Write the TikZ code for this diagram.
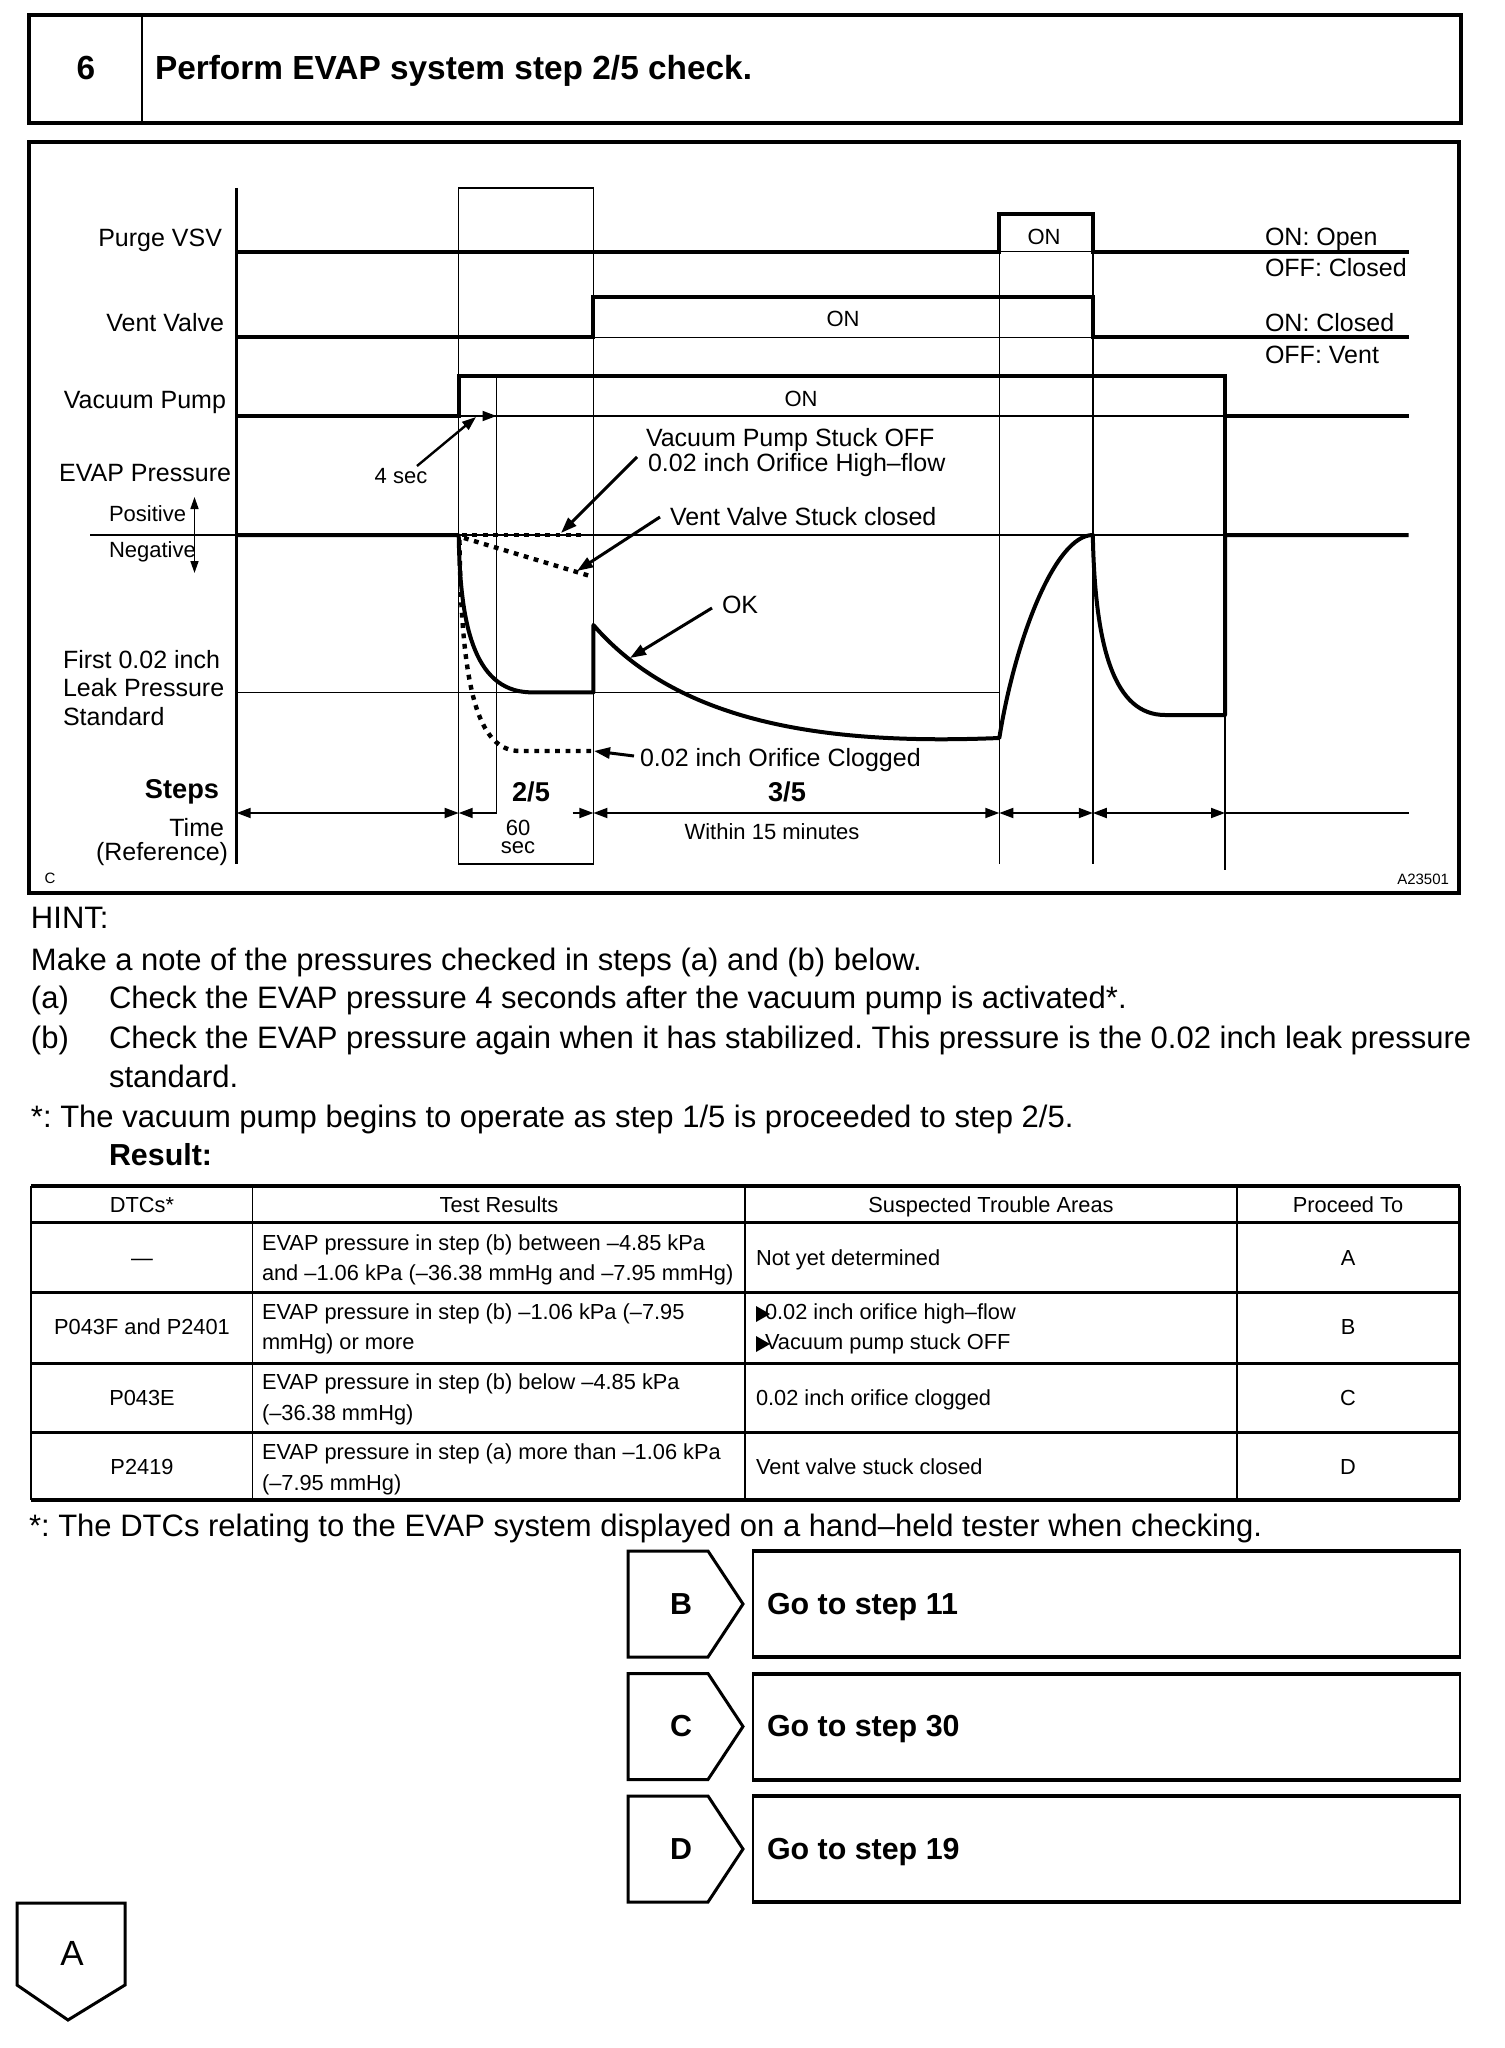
\documentclass[tikz,border=0pt]{standalone}
\usepackage{fontspec}
\setmainfont{Liberation Sans}
\usetikzlibrary{arrows.meta}
\frenchspacing
\newcommand\fsz[1]{\fontsize{#1}{#1}\selectfont}
\tikzset{
  thk/.style={line width=2pt},
  thn/.style={line width=0.7pt},
  med/.style={line width=1.2pt},
  sqdots/.style={line width=2.2pt, dash pattern=on 2.4pt off 2.8pt},
  lead/.style={line width=1.5pt, -{Triangle[length=8pt,width=5.5pt]}},
  dimb/.style={line width=0.9pt, {Triangle[length=7pt,width=5pt]}-{Triangle[length=7pt,width=5pt]}},
  dimr/.style={line width=0.9pt, -{Triangle[length=7pt,width=5pt]}},
  txt/.style={inner sep=0pt, outer sep=0pt},
  lab/.style={txt, font=\fsz{12.5}, yshift=-1.75pt},
  sml/.style={txt, font=\fsz{11}, yshift=-1.5pt},
  tiny/.style={txt, font=\fsz{7.5}, yshift=-0.8pt},
  bod/.style={txt, font=\fsz{15.5}, yshift=-2.5pt},
  tab/.style={txt, font=\fsz{10.9}, yshift=-1.25pt},
  bld/.style={txt, font=\bfseries\fsz{16.7}, yshift=-2.75pt},
  gobld/.style={txt, font=\bfseries\fsz{15.2}, yshift=-2.5pt},
  bstep/.style={txt, font=\bfseries\fsz{13.6}, yshift=-1.5pt},
}
\begin{document}
\begin{tikzpicture}[x=0.5pt,y=-0.5pt]
\useasboundingbox (0,0) rectangle (1504,2048);
\fill[white] (0,0) rectangle (1504,2048);

% ---------- header ----------
\draw[line width=1.8pt] (29,15) rectangle (1461,123);
\draw[line width=1.3pt] (142,15) -- (142,123);
\node[bld, anchor=mid] (num) at (86,69) {6};
\node[bld, anchor=mid west] (title) at (155,69) {Perform EVAP system step 2/5 check.};

% ---------- diagram box ----------
\draw[line width=1.8pt] (29,142) rectangle (1459,893);

% grid (thin)
\draw[thn] (458.7,188) rectangle (593.4,864);
\draw[thn] (496.5,376) -- (496.5,813);
\draw[thn] (999.3,251.7) -- (999.3,864);
\draw[thn] (1092.8,214) -- (1092.8,864);
\draw[med] (1225,715) -- (1225,870);
\draw[thn] (999.3,251.7) -- (1092.8,251.7);
\draw[thn] (593.4,337.3) -- (1092.8,337.3);
\draw[thn] (458.7,416) -- (1225,416);
\draw[thn] (90,535) -- (1225,535);
\draw[thn] (236.7,692.3) -- (999.3,692.3);

% axis
\draw[line width=1.6pt] (236.7,188) -- (236.7,864);

% signals
\draw[thk] (236.7,251.7) -- (999.3,251.7) -- (999.3,214) -- (1092.8,214) -- (1092.8,251.7) -- (1408.6,251.7);
\draw[thk] (236.7,337.3) -- (593.4,337.3) -- (593.4,297.3) -- (1092.8,297.3) -- (1092.8,337.3) -- (1408.6,337.3);
\draw[thk] (236.7,416) -- (458.7,416) -- (458.7,376) -- (1225,376) -- (1225,416) -- (1408.6,416);
\draw[thk] (1225,416) -- (1225,535);
\draw[thk, line join=round] (236.7,535) -- (458.7,535)
  .. controls (460,620) and (472,690) .. (529,692.3) -- (593.4,692.3) -- (593.4,625)
  .. controls (680,725) and (830,745) .. (999.3,738)
  .. controls (1015,640) and (1055,535) .. (1092.8,535)
  .. controls (1095,650) and (1115,715) .. (1165,715) -- (1225,715) -- (1225,535) -- (1408.6,535);

% dotted curves
\draw[sqdots] (462,535) -- (586,535);
\draw[sqdots] (464,538) -- (590,576);
\draw[sqdots] (459.5,540) .. controls (461,690) and (478,751) .. (520,751) -- (593,751);

% labels left
\node[lab, anchor=mid east] (purge) at (222,238) {Purge VSV};
\node[lab, anchor=mid east] (vent) at (224,323) {Vent Valve};
\node[lab, anchor=mid east] (vac) at (226,400) {Vacuum Pump};
\node[lab, anchor=mid east] (evap) at (231,473) {EVAP Pressure};
\node[sml, anchor=mid west] (pos) at (109,513) {Positive};
\node[sml, anchor=mid west] (neg) at (109,549) {Negative};
\coordinate (pm) at (194.5,535);
\coordinate (pu) at (194.5,497);
\coordinate (pd) at (194.5,573);
\draw[line width=0.8pt, -{Triangle[length=6pt,width=4pt]}] (pm) -- (pu);
\draw[line width=0.8pt, -{Triangle[length=6pt,width=4pt]}] (pm) -- (pd);
\node[lab, anchor=mid west] (first1) at (63,660) {First 0.02 inch};
\node[lab, anchor=mid west] (first2) at (63,688) {Leak Pressure};
\node[lab, anchor=mid west] (first3) at (63,717) {Standard};
\node[bstep, anchor=mid east] (steps) at (219,790) {Steps};
\node[lab, anchor=mid east] (time) at (224,828) {Time};
\node[lab, anchor=mid east] (refr) at (228,852) {(Reference)};

% right labels
\node[lab, anchor=mid west] (r1) at (1265,237) {ON: Open};
\node[lab, anchor=mid west] (r2) at (1265,268) {OFF: Closed};
\node[lab, anchor=mid west] (r3) at (1265,323) {ON: Closed};
\node[lab, anchor=mid west] (r4) at (1265,355) {OFF: Vent};

% ON labels
\node[sml, anchor=mid] (on1) at (1044,236) {ON};
\node[sml, anchor=mid] (on2) at (843,318) {ON};
\node[sml, anchor=mid] (on3) at (801,398) {ON};

% 4 sec
\node[sml, anchor=mid] (four) at (401,475) {4 sec};
\coordinate (fourtip) at (476,417);
\draw[line width=1.2pt, -{Triangle[length=7pt,width=5pt]}] (417,466) -- (fourtip);
\coordinate (vp0) at (458.7,416);
\coordinate (vp4) at (496.5,416);
\draw[dimr] (vp0) -- (vp4);

% annotation labels and leaders
\node[lab, anchor=mid west] (vpso) at (646,438) {Vacuum Pump Stuck OFF};
\node[lab, anchor=mid west] (hflow) at (648,463) {0.02 inch Orifice High–flow};
\node[lab, anchor=mid west] (vvsc) at (670,517) {Vent Valve Stuck closed};
\node[lab, anchor=mid west] (ok) at (722,605) {OK};
\node[lab, anchor=mid west] (clog) at (640,758) {0.02 inch Orifice Clogged};
\coordinate (hfT) at (561,533);
\coordinate (vvT) at (577,571);
\coordinate (okT) at (630,658);
\coordinate (clT) at (594,751);
\draw[lead] (637,457) -- (hfT);
\draw[lead] (660,517) -- (vvT);
\draw[lead] (712,608) -- (okT);
\draw[lead] (634,756) -- (clT);

% time axis
\coordinate (tA) at (236.7,813);
\coordinate (t1) at (458.7,813);
\coordinate (t4) at (496.5,813);
\coordinate (t6a) at (572.6,813);
\coordinate (t2) at (593.4,813);
\coordinate (t3) at (999.3,813);
\coordinate (t5) at (1092.8,813);
\coordinate (t6) at (1225,813);
\coordinate (tE) at (1408.6,813);
\draw[dimb] (tA) -- (t1);
\draw[dimr] (t4) -- (t1);
\draw[dimr] (t6a) -- (t2);
\draw[dimb] (t2) -- (t3);
\draw[dimb] (t3) -- (t5);
\draw[dimb] (t5) -- (t6);
\draw[line width=0.9pt] (t6) -- (tE);

\node[bstep, anchor=mid] (s25) at (531,793) {2/5};
\node[bstep, anchor=mid] (s35) at (787,793) {3/5};
\node[sml, anchor=mid] (sixty) at (518,827) {60};
\node[sml, anchor=mid] (secs) at (518,845) {sec};
\node[sml, anchor=mid] (within) at (772,831) {Within 15 minutes};
\node[tiny, anchor=mid] (cc) at (50,877) {C};
\node[tiny, anchor=mid east] (code) at (1449,878) {A23501};

% ---------- hint text ----------
\node[bod, anchor=mid west] (hint) at (31,918) {HINT:};
\node[bod, anchor=mid west] (note) at (31,960) {Make a note of the pressures checked in steps (a) and (b) below.};
\node[bod, anchor=mid west] (ia) at (31,998) {(a)};
\node[bod, anchor=mid west] (ta) at (109,998) {Check the EVAP pressure 4 seconds after the vacuum pump is activated*.};
\node[bod, anchor=mid west] (ib) at (31,1038) {(b)};
\node[bod, anchor=mid west] (tb) at (109,1038) {Check the EVAP pressure again when it has stabilized. This pressure is the 0.02 inch leak pressure};
\node[bod, anchor=mid west] (tb2) at (109,1077) {standard.};
\node[bod, anchor=mid west] (star) at (31,1117) {*: The vacuum pump begins to operate as step 1/5 is proceeded to step 2/5.};
\node[txt, font=\bfseries\fsz{15.2}, yshift=-2.5pt, anchor=mid west] (res) at (109,1155) {Result:};

% ---------- table ----------
\draw[line width=1.8pt] (31,1186) -- (1459.5,1186);
\draw[line width=1.8pt] (31,1500) -- (1459.5,1500);
\draw[line width=1.5pt] (31,1222.5) -- (1459.5,1222.5);
\draw[line width=1.5pt] (31,1292.5) -- (1459.5,1292.5);
\draw[line width=1.5pt] (31,1363) -- (1459.5,1363);
\draw[line width=1.5pt] (31,1432) -- (1459.5,1432);
\draw[line width=1.2pt] (31,1186) -- (31,1500);
\draw[line width=1.2pt] (1459.5,1186) -- (1459.5,1500);
\draw[line width=0.9pt] (252.5,1186) -- (252.5,1500);
\draw[line width=0.9pt] (745,1186) -- (745,1500);
\draw[line width=0.9pt] (1237,1186) -- (1237,1500);

\node[tab, anchor=mid] (h1) at (142,1205) {DTCs*};
\node[tab, anchor=mid] (h2) at (499,1205) {Test Results};
\node[tab, anchor=mid] (h3) at (991,1205) {Suspected Trouble Areas};
\node[tab, anchor=mid] (h4) at (1348,1205) {Proceed To};

\node[tab, anchor=mid] (a1) at (142,1258) {—};
\node[tab, anchor=mid west] (a2a) at (262,1243) {EVAP pressure in step (b) between –4.85 kPa};
\node[tab, anchor=mid west] (a2b) at (262,1273) {and –1.06 kPa (–36.38 mmHg and –7.95 mmHg)};
\node[tab, anchor=mid west] (a3) at (756,1258) {Not yet determined};
\node[tab, anchor=mid] (a4) at (1348,1258) {A};

\node[tab, anchor=mid] (b1) at (142,1327) {P043F and P2401};
\node[tab, anchor=mid west] (b2a) at (262,1312) {EVAP pressure in step (b) –1.06 kPa (–7.95};
\node[tab, anchor=mid west] (b2b) at (262,1342) {mmHg) or more};
\node[tab, anchor=mid west] (b3a) at (765,1312) {0.02 inch orifice high–flow};
\node[tab, anchor=mid west] (b3b) at (765,1342) {Vacuum pump stuck OFF};
\fill (756,1306) -- (770,1314) -- (756,1322) -- cycle;
\fill (756,1336) -- (770,1344) -- (756,1352) -- cycle;
\node[tab, anchor=mid] (b4) at (1348,1327) {B};

\node[tab, anchor=mid] (c1) at (142,1398) {P043E};
\node[tab, anchor=mid west] (c2a) at (262,1382) {EVAP pressure in step (b) below –4.85 kPa};
\node[tab, anchor=mid west] (c2b) at (262,1413) {(–36.38 mmHg)};
\node[tab, anchor=mid west] (c3) at (756,1398) {0.02 inch orifice clogged};
\node[tab, anchor=mid] (c4) at (1348,1398) {C};

\node[tab, anchor=mid] (d1) at (142,1467) {P2419};
\node[tab, anchor=mid west] (d2a) at (262,1452) {EVAP pressure in step (a) more than –1.06 kPa};
\node[tab, anchor=mid west] (d2b) at (262,1483) {(–7.95 mmHg)};
\node[tab, anchor=mid west] (d3) at (756,1467) {Vent valve stuck closed};
\node[tab, anchor=mid] (d4) at (1348,1467) {D};

\node[bod, anchor=mid west] (foot) at (29,1526) {*: The DTCs relating to the EVAP system displayed on a hand–held tester when checking.};

% ---------- B / C / D ----------
\foreach \T/\L/\N [count=\i] in {1551/B/11, 1673.5/C/30, 1796/D/19}{
  \pgfmathsetmacro{\Bm}{\T+106}
  \pgfmathsetmacro{\M}{\T+53}
  \draw[line width=1.5pt, line join=miter] (628,\T) -- (708,\T) -- (743,\M) -- (708,\Bm) -- (628,\Bm) -- cycle;
  \draw[line width=1.4pt] (753,\T) -- (753,\Bm);
  \draw[line width=1.4pt] (1460,\T) -- (1460,\Bm);
  \draw[line width=2pt] (752.3,\T) -- (1460.7,\T);
  \draw[line width=2pt] (752.3,\Bm) -- (1460.7,\Bm);
  \node[gobld, anchor=mid] (tag\i) at (681,\M) {\L};
  \node[gobld, anchor=mid west] (go\i) at (767,\M) {Go to step \N};
}

% ---------- A ----------
\draw[line width=1.5pt] (17,1903) -- (125,1903) -- (125,1985) -- (68,2020) -- (17,1985) -- cycle;
\node[txt, font=\fsz{17.5}, yshift=-2.5pt, anchor=mid] (atag) at (72,1955) {A};
\end{tikzpicture}
\end{document}
